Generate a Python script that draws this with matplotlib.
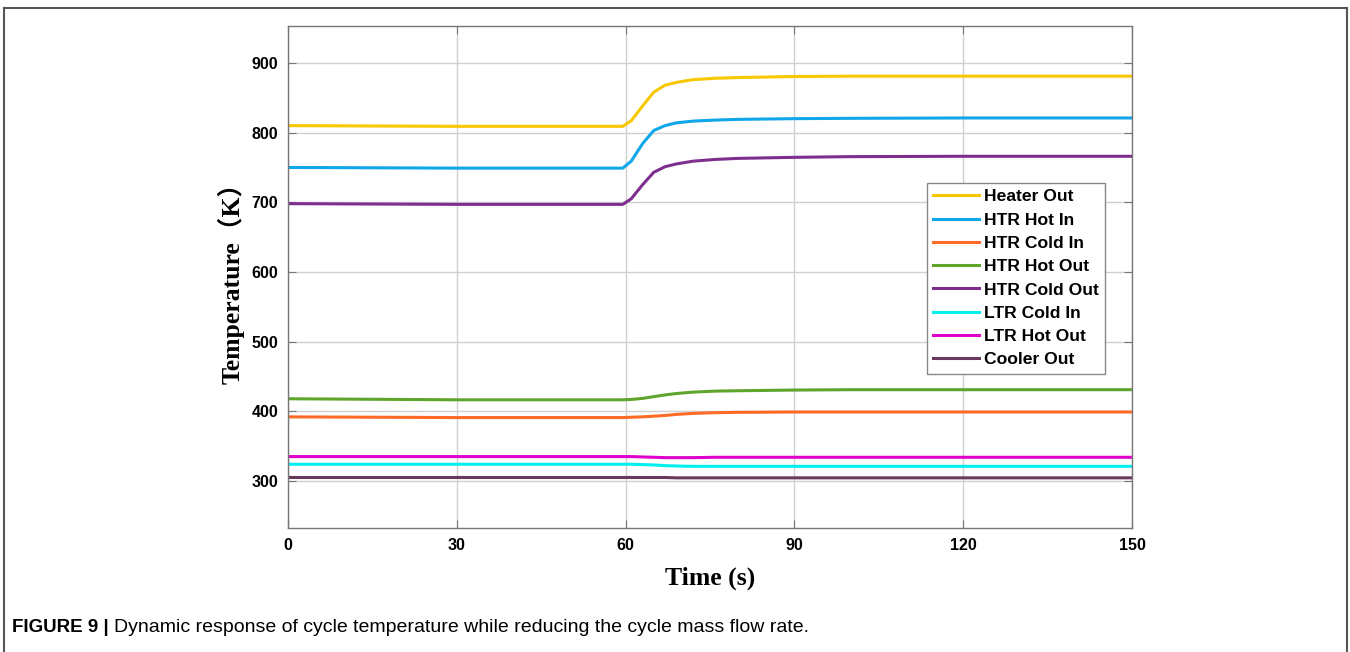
import matplotlib
matplotlib.use("Agg")
import matplotlib.pyplot as plt
from matplotlib.lines import Line2D

# ---- data ----
time_s = [0, 30, 59.5, 61, 63, 65, 67, 69, 72, 76, 80, 90, 100, 120, 150]
heater_out = [810, 809, 809, 817, 838, 858, 868, 872, 876, 878, 879, 880.5, 881, 881, 881]
htr_hot_in = [750, 749, 749, 759, 784, 803, 810, 814, 816.5, 818, 819, 820, 820.5, 821, 821]
htr_cold_in = [392, 391, 391, 391.5, 392, 393, 394, 395.5, 397, 398, 398.5, 399, 399, 399, 399]
htr_hot_out = [418, 416.5, 416.5, 417, 418.5, 421, 423.5, 425.5, 427.5, 429, 429.5, 430.5, 431, 431, 431]
htr_cold_out = [698, 697, 697, 705, 725, 743, 751, 755, 759, 761.5, 763, 764.5, 765.5, 766, 766]
ltr_cold_in = [324, 324, 324, 324, 323.5, 323, 322, 321.5, 321, 321, 321, 321, 321, 321, 321]
ltr_hot_out = [335, 335, 335, 335, 334.5, 334, 333.5, 333.5, 333.5, 334, 334, 334, 334, 334, 334]
cooler_out = [305, 305, 305, 305, 305, 305, 305, 304.5, 304.5, 304.5, 304.5, 304.5, 304.5, 304.5, 304.5]

labels = ["Heater Out", "HTR Hot In", "HTR Cold In", "HTR Hot Out",
          "HTR Cold Out", "LTR Cold In", "LTR Hot Out", "Cooler Out"]
colors = ["#F7C700", "#10A6EA", "#FF6A26", "#5FA52C",
          "#7E2F8E", "#00F0F0", "#E000CC", "#6A3A5C"]
series = [heater_out, htr_hot_in, htr_cold_in, htr_hot_out,
          htr_cold_out, ltr_cold_in, ltr_hot_out, cooler_out]

x_ticks = [0, 30, 60, 90, 120, 150]
y_ticks = [300, 400, 500, 600, 700, 800, 900]

# ---- figure ----
fig = plt.figure(figsize=(13.5, 6.52), dpi=100)
ax = fig.add_axes([288/1350, 1-528/652, (1132-288)/1350, (528-26)/652])

for vals, lab, col in zip(series, labels, colors):
    ax.plot(time_s, vals, color=col, lw=2.2, label=lab)

ax.set_xlim(0, 150)
ax.set_ylim(232.5, 953)
ax.set_xticks(x_ticks)
ax.set_yticks(y_ticks)
ax.grid(True, color="#d0d0d0", lw=1.0)
ax.set_axisbelow(True)
ax.tick_params(direction="in", top=True, right=True, length=6, width=0.8,
               color="#777777", labelsize=11.5, pad=7)
for lbl in ax.get_xticklabels() + ax.get_yticklabels():
    lbl.set_fontfamily("Liberation Sans")
    lbl.set_fontweight("bold")
for sp in ax.spines.values():
    sp.set_color("#777777")
    sp.set_linewidth(1.0)

ax.set_xlabel("Time (s)", family=["Liberation Serif"], fontweight="bold",
              fontsize=18.5, labelpad=10)
ax.set_ylabel("Temperature（K）", family=["Liberation Serif", "Noto Sans CJK SC"],
              fontweight="bold", fontsize=18.5, labelpad=5)

leg = ax.legend(loc="upper left", bbox_to_anchor=((927-288)/844, (528-183)/502),
                borderaxespad=0, prop={"family": "Liberation Sans", "weight": "bold", "size": 12.6},
                handlelength=2.6, handletextpad=0.3, labelspacing=0.46,
                borderpad=0.35, fancybox=False, framealpha=1, edgecolor="#888888")
leg.get_frame().set_linewidth(1.0)

# figure frame
fc = "#555555"
fig.add_artist(Line2D([4/1350, 4/1350], [0, 1-8/652], transform=fig.transFigure, color=fc, lw=1.5))
fig.add_artist(Line2D([4/1350, 1347/1350], [1-8/652, 1-8/652], transform=fig.transFigure, color=fc, lw=1.5))
fig.add_artist(Line2D([1347/1350, 1347/1350], [0, 1-8/652], transform=fig.transFigure, color=fc, lw=1.5))

# caption
t1 = fig.text(12/1350, 1-628/652, "FIGURE 9 |", family="Liberation Sans", fontweight="bold",
              fontsize=13.5, va="center", ha="left")
fig.canvas.draw()
bb = t1.get_window_extent(renderer=fig.canvas.get_renderer())
fig.text((bb.x1 + 5)/1350, 1-628/652, "Dynamic response of cycle temperature while reducing the cycle mass flow rate.",
         family="Liberation Sans", fontsize=14, va="center", ha="left")

fig.savefig("out.png", dpi=100)
